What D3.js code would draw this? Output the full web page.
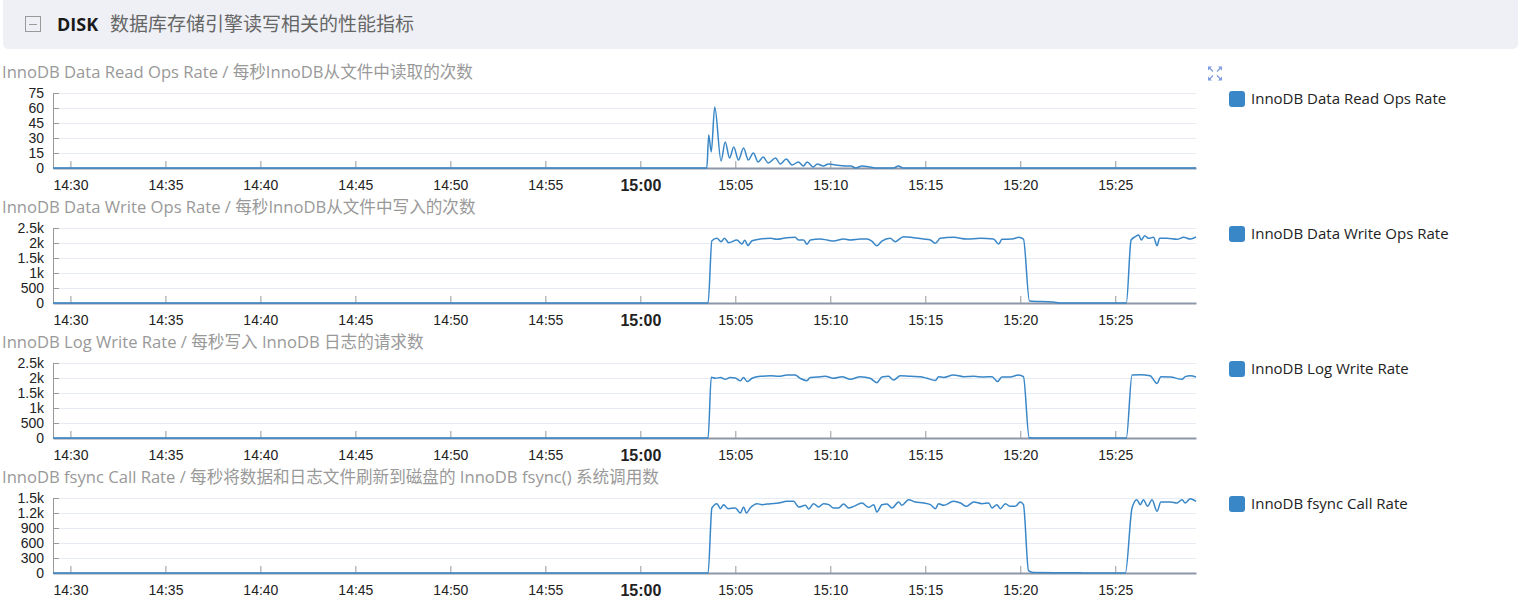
<!DOCTYPE html>
<html>
<head>
<meta charset="utf-8">
<script src="https://cdn.jsdelivr.net/npm/d3@7"></script>
<style>
  body { margin: 0; background: #fff; }
  svg { display: block; font-family: "Open Sans", "Noto Sans CJK SC", sans-serif; }
  .ax.y path, .ax line { stroke: #999; }
  .ax.x path { stroke: #8d97a8; stroke-width: 2px; }
  .ax text { fill: #222; font-size: 14px; }
  .grid line { stroke: #e6eaf2; }
  .line { fill: none; stroke-width: 1.5px; }
  .title { fill: #999; font-size: 16.6px; }
  .legend text { fill: #222; font-size: 15px; }
</style>
</head>
<body>
<svg id="page" width="1518" height="606"></svg>
<script>
// x axis
var timeDomain = ['14:29:05', '15:29:15']
var timeTicks = ['14:30', '14:35', '14:40', '14:45', '14:50', '14:55', '15:00', '15:05', '15:10', '15:15', '15:20', '15:25']

// y ticks per panel
var readTicks = [0, 15, 30, 45, 60, 75]
var writeTicks = [0, 500, 1000, 1500, 2000, 2500]
var logTicks = [0, 500, 1000, 1500, 2000, 2500]
var fsyncTicks = [0, 300, 600, 900, 1200, 1500]

var panelTitles = [
  'InnoDB Data Read Ops Rate / 每秒InnoDB从文件中读取的次数',
  'InnoDB Data Write Ops Rate / 每秒InnoDB从文件中写入的次数',
  'InnoDB Log Write Rate / 每秒写入 InnoDB 日志的请求数',
  'InnoDB fsync Call Rate / 每秒将数据和日志文件刷新到磁盘的 InnoDB fsync() 系统调用数'
]
var seriesNames = ['InnoDB Data Read Ops Rate', 'InnoDB Data Write Ops Rate', 'InnoDB Log Write Rate', 'InnoDB fsync Call Rate']

var readOps = [
  ['14:29:05', 0], ['15:03:30', 0], ['15:03:36', 33], ['15:03:44', 16], ['15:03:55', 61],
  ['15:04:15', 7], ['15:04:28', 26], ['15:04:42', 10], ['15:04:55', 21], ['15:05:10', 8],
  ['15:05:26', 20], ['15:05:41', 8], ['15:05:57', 15], ['15:06:12', 6], ['15:06:28', 11],
  ['15:06:44', 5], ['15:07:07', 10], ['15:07:22', 4], ['15:07:41', 9], ['15:07:59', 3],
  ['15:08:19', 6], ['15:08:35', 2], ['15:08:47', 6], ['15:09:06', 1], ['15:09:19', 4],
  ['15:09:38', 2], ['15:09:54', 4], ['15:10:16', 3], ['15:10:47', 2], ['15:11:05', 2],
  ['15:11:20', 0], ['15:11:40', 2], ['15:12:06', 1], ['15:12:25', 0], ['15:13:20', 0],
  ['15:13:35', 2], ['15:13:50', 0], ['15:29:15', 0]
]

var writeOps = [
  ['14:29:05', 0], ['15:03:34', 0], ['15:03:46', 2077], ['15:04:02', 2155], ['15:04:15', 2044],
  ['15:04:26', 2155], ['15:04:39', 2011], ['15:05:05', 2100], ['15:05:21', 1967], ['15:05:30', 2090],
  ['15:05:40', 1920], ['15:05:53', 2077], ['15:06:19', 2133], ['15:06:51', 2155], ['15:07:11', 2122],
  ['15:07:43', 2177], ['15:08:09', 2188], ['15:08:20', 2100], ['15:08:36', 2100], ['15:08:46', 1955],
  ['15:08:57', 2100], ['15:09:28', 2133], ['15:09:50', 2100], ['15:10:10', 2066], ['15:10:42', 2133],
  ['15:11:03', 2100], ['15:11:35', 2133], ['15:11:56', 2133], ['15:12:11', 2066], ['15:12:27', 1911],
  ['15:12:43', 2066], ['15:13:09', 2155], ['15:13:25', 2044], ['15:13:51', 2211], ['15:14:23', 2177],
  ['15:14:55', 2133], ['15:15:16', 2100], ['15:15:32', 1989], ['15:15:47', 2155], ['15:16:29', 2188],
  ['15:17:11', 2133], ['15:17:54', 2155], ['15:18:35', 2133], ['15:18:52', 1967], ['15:19:02', 2122],
  ['15:19:34', 2133], ['15:19:55', 2188], ['15:20:10', 2133], ['15:20:29', 70], ['15:21:44', 30],
  ['15:22:06', 0], ['15:25:35', 0], ['15:25:50', 2100], ['15:26:03', 2211], ['15:26:14', 2266],
  ['15:26:22', 2100], ['15:26:33', 2244], ['15:26:45', 2155], ['15:27:01', 2188], ['15:27:12', 1911],
  ['15:27:20', 2155], ['15:27:43', 2155], ['15:28:15', 2122], ['15:28:36', 2188], ['15:28:57', 2133],
  ['15:29:15', 2200]
]

var logWrites = [
  ['14:29:05', 0], ['15:03:34', 0], ['15:03:44', 2022], ['15:03:57', 1990], ['15:04:13', 2020],
  ['15:04:28', 1955], ['15:04:44', 2020], ['15:05:00', 2000], ['15:05:16', 1910], ['15:05:26', 2020],
  ['15:05:37', 1880], ['15:05:53', 1990], ['15:06:19', 2055], ['15:06:51', 2075], ['15:07:17', 2055],
  ['15:07:43', 2100], ['15:08:09', 2100], ['15:08:25', 1990], ['15:08:46', 1910], ['15:08:57', 2020],
  ['15:09:18', 2030], ['15:09:44', 2055], ['15:10:10', 1990], ['15:10:37', 2045], ['15:11:03', 1955],
  ['15:11:35', 2045], ['15:12:06', 1990], ['15:12:27', 1845], ['15:12:43', 2035], ['15:13:04', 2055],
  ['15:13:20', 1935], ['15:13:41', 2075], ['15:14:13', 2055], ['15:14:44', 2045], ['15:15:05', 1990],
  ['15:15:32', 1920], ['15:15:42', 2045], ['15:15:58', 2020], ['15:16:29', 2100], ['15:17:01', 2045],
  ['15:17:33', 2055], ['15:18:04', 2035], ['15:18:31', 2045], ['15:18:48', 1880], ['15:19:02', 2035],
  ['15:19:28', 2035], ['15:19:55', 2100], ['15:20:10', 2045], ['15:20:28', 20], ['15:20:45', 0],
  ['15:25:35', 0], ['15:25:53', 2100], ['15:26:19', 2110], ['15:26:50', 2075], ['15:27:12', 1820],
  ['15:27:24', 2045], ['15:27:54', 2035], ['15:28:31', 1955], ['15:28:41', 2045], ['15:28:57', 2075],
  ['15:29:15', 2035]
]

var fsyncCalls = [
  ['14:29:05', 0], ['15:03:34', 0], ['15:03:46', 1300], ['15:04:02', 1387], ['15:04:13', 1287],
  ['15:04:23', 1367], ['15:04:37', 1287], ['15:05:00', 1300], ['15:05:16', 1200], ['15:05:26', 1320],
  ['15:05:35', 1200], ['15:05:47', 1300], ['15:06:09', 1387], ['15:06:24', 1367], ['15:06:51', 1387],
  ['15:07:17', 1400], ['15:07:43', 1433], ['15:08:04', 1433], ['15:08:20', 1320], ['15:08:41', 1353],
  ['15:08:52', 1280], ['15:09:07', 1387], ['15:09:23', 1320], ['15:09:39', 1387], ['15:09:55', 1367],
  ['15:10:10', 1300], ['15:10:26', 1300], ['15:10:42', 1380], ['15:10:58', 1300], ['15:11:14', 1333],
  ['15:11:40', 1400], ['15:12:01', 1313], ['15:12:17', 1367], ['15:12:27', 1220], ['15:12:43', 1367],
  ['15:12:59', 1380], ['15:13:15', 1300], ['15:13:36', 1420], ['15:13:46', 1353], ['15:14:07', 1467],
  ['15:14:28', 1420], ['15:14:55', 1400], ['15:15:16', 1367], ['15:15:32', 1287], ['15:15:42', 1387],
  ['15:15:58', 1353], ['15:16:29', 1433], ['15:16:51', 1400], ['15:17:10', 1333], ['15:17:33', 1420],
  ['15:17:59', 1387], ['15:18:20', 1400], ['15:18:31', 1300], ['15:18:46', 1367], ['15:18:57', 1287],
  ['15:19:13', 1387], ['15:19:28', 1333], ['15:19:44', 1333], ['15:20:00', 1420], ['15:20:10', 1367],
  ['15:20:26', 47], ['15:20:41', 10], ['15:22:59', 5], ['15:23:20', 0], ['15:25:32', 0],
  ['15:25:53', 1300], ['15:26:08', 1467], ['15:26:19', 1367], ['15:26:29', 1467], ['15:26:42', 1333],
  ['15:26:56', 1467], ['15:27:12', 1233], ['15:27:24', 1420], ['15:27:54', 1420], ['15:28:15', 1400],
  ['15:28:31', 1467], ['15:28:41', 1400], ['15:28:57', 1487], ['15:29:15', 1433]
]

;(function () {
  window.rateChart = function init () {
    var left = 53
    var right = 1196
    var top = 93
    var height = 75
    var yTicks = [0]
    var title = ''
    var label = ''
    var color = '#3a87c8'
    var parse = d3.timeParse('%H:%M:%S')
    var parseHM = d3.timeParse('%H:%M')

    function build (selection) {
      selection.each(function (data) {
        var g = d3.select(this)
        var bottom = top + height

        var mapx = d3.scaleTime()
            .domain(timeDomain.map(parse))
            .range([left, right])

        var mapy = d3.scaleLinear()
            .domain([0, d3.max(yTicks)])
            .range([bottom, top])

        g.append('text')
            .classed('title', true)
            .attr('x', 2)
            .attr('y', top - 15)
            .text(title)

        // grid
        g.append('g').classed('grid', true)
            .selectAll('line')
            .data(yTicks.filter(d => d > 0))
            .join('line')
            .attr('x1', left)
            .attr('x2', right)
            .attr('y1', d => mapy(d) + 0.5)
            .attr('y2', d => mapy(d) + 0.5)

        // y axis
        var yAxis = d3.axisLeft(mapy)
            .tickValues(yTicks)
            .tickSizeInner(-6)
            .tickSizeOuter(0)
            .tickPadding(9)
            .tickFormat(d => d >= 1000 ? (d / 1000) + 'k' : d)

        g.append('g').classed('ax y', true)
            .attr('transform', `translate(${left},0)`)
            .call(yAxis)
            .selectAll('text').attr('dy', '0.35em')

        // x axis
        var xAxis = d3.axisBottom(mapx)
            .tickValues(timeTicks.map(t => parseHM(t)))
            .tickSizeInner(-7)
            .tickSizeOuter(0)
            .tickPadding(12)
            .tickFormat(d3.timeFormat('%H:%M'))

        var ax = g.append('g').classed('ax x', true)
            .attr('transform', `translate(0,${bottom})`)
            .call(xAxis)

        ax.selectAll('.tick text')
            .filter(d => d3.timeFormat('%H:%M')(d) === '15:00')
            .style('font-weight', 'bold')
            .style('font-size', '16px')

        // the line
        var line = d3.line()
            .x(d => mapx(parse(d[0])))
            .y(d => mapy(d[1]))
            .curve(d3.curveMonotoneX)

        g.append('path')
            .classed('line', true)
            .attr('d', line(data))
            .style('stroke', color)

        // legend
        var leg = g.append('g').classed('legend', true)
        leg.append('rect')
            .attr('x', 1229)
            .attr('y', top - 2)
            .attr('width', 16)
            .attr('height', 16)
            .attr('rx', 3)
            .attr('fill', color)
        leg.append('text')
            .attr('x', 1251)
            .attr('y', top + 11)
            .text(label)
      })
    }

    build.top = function (value) {
      if (!arguments.length) return top
      top = value
      return build
    }

    build.yTicks = function (value) {
      if (!arguments.length) return yTicks
      yTicks = value
      return build
    }

    build.title = function (value) {
      if (!arguments.length) return title
      title = value
      return build
    }

    build.label = function (value) {
      if (!arguments.length) return label
      label = value
      return build
    }
    return build
  }
})()

var svg = d3.select('#page')

// section header
var head = svg.append('g')
head.append('rect')
    .attr('x', 3).attr('y', -6)
    .attr('width', 1515).attr('height', 55)
    .attr('rx', 5)
    .attr('fill', '#eef0f5')
head.append('rect')
    .attr('x', 25.5).attr('y', 16.5)
    .attr('width', 15).attr('height', 15)
    .attr('fill', 'none').attr('stroke', '#9a9a9a')
head.append('line')
    .attr('x1', 29).attr('x2', 37)
    .attr('y1', 24.5).attr('y2', 24.5)
    .attr('stroke', '#9a9a9a')
head.append('text')
    .attr('x', 57).attr('y', 31)
    .style('font-size', '18px').style('font-weight', 'bold').style('fill', '#1a1a1a')
    .text('DISK')
head.append('text')
    .attr('x', 110).attr('y', 31)
    .style('font-size', '19px').style('fill', '#666')
    .text('数据库存储引擎读写相关的性能指标')

// expand icon on first panel
var icon = svg.append('g')
    .attr('transform', 'translate(1215,73.5)')
    .attr('fill', '#7d9be0').attr('stroke', '#7d9be0').attr('stroke-width', 1.2)
;[[-1, -1], [1, -1], [-1, 1], [1, 1]].forEach(function (s) {
  icon.append('line')
      .attr('x1', s[0] * 2).attr('y1', s[1] * 2)
      .attr('x2', s[0] * 6).attr('y2', s[1] * 6)
  icon.append('path')
      .attr('stroke', 'none')
      .attr('d', `M${s[0] * 7},${s[1] * 7}L${s[0] * 3},${s[1] * 7}L${s[0] * 7},${s[1] * 3}Z`)
})

var panels = [
  {data: readOps, ticks: readTicks},
  {data: writeOps, ticks: writeTicks},
  {data: logWrites, ticks: logTicks},
  {data: fsyncCalls, ticks: fsyncTicks}
]

panels.forEach(function (p, i) {
  var chart = rateChart()
      .top(93 + 135 * i)
      .yTicks(p.ticks)
      .title(panelTitles[i])
      .label(seriesNames[i])

  svg.append('g')
      .datum(p.data)
      .call(chart)
})
</script>
</body>
</html>
